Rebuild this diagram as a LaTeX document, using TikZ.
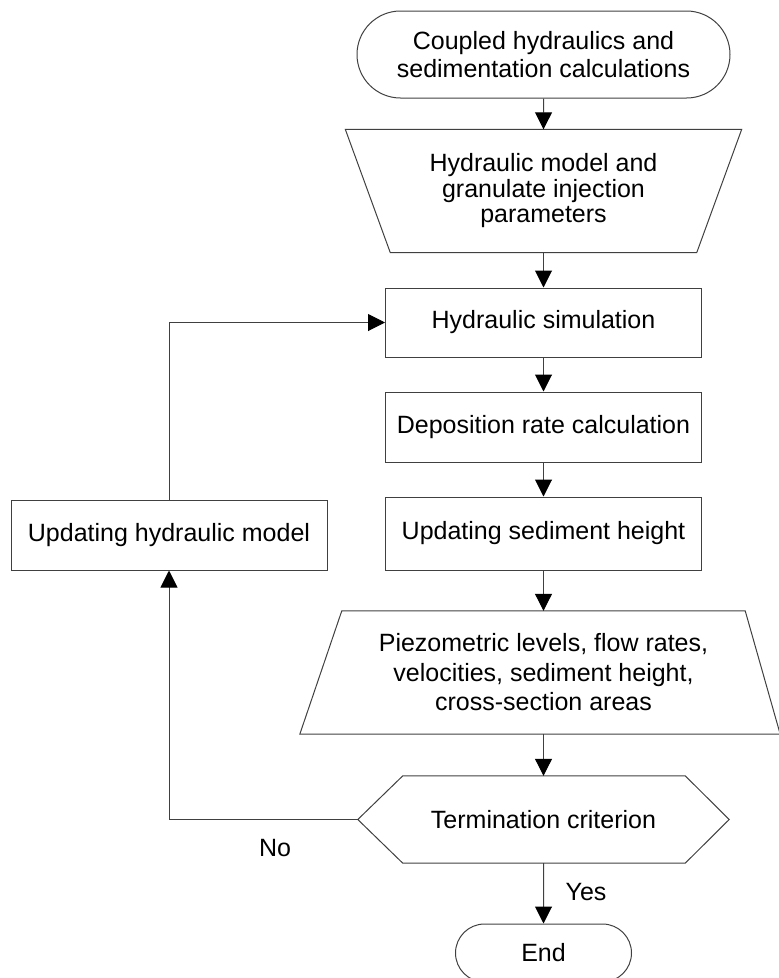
\documentclass[tikz,border=0pt]{standalone}
\usepackage{fontspec}
\setmainfont{Liberation Sans}
\usetikzlibrary{shapes.misc,arrows.meta}

\tikzset{
  outline/.style={draw=black!75, line width=1pt},
  txt/.style={font=\fontsize{25}{28}\selectfont, align=center, inner sep=0pt},
  terminal/.style={txt, outline, rounded rectangle},
  process/.style={txt, outline, rectangle},
  ghost/.style={txt, rectangle},
  flow/.style={draw=black!75, line width=1pt,
    -{Triangle[width=17pt,length=17pt,color=black]}},
}

\begin{document}
\begin{tikzpicture}[x=1pt, y=-1pt]
  \useasboundingbox (0,0) rectangle (779,978);

  % start terminal
  \node[terminal, minimum width=373pt, minimum height=87pt] (start) at (543.5,54.5)
    {Coupled hydraulics and\\sedimentation calculations};

  % input parameters (wide at the top)
  \node[ghost, minimum width=396pt, minimum height=123pt,
        font=\fontsize{25}{25.5}\selectfont] (in1) at (543.5,191)
    {Hydraulic model and\\granulate injection\\parameters};
  \draw[outline] (in1.north west) -- (in1.north east)
    -- ([xshift=-45pt]in1.south east) -- ([xshift=45pt]in1.south west) -- cycle;

  % processing steps
  \node[process, minimum width=316pt, minimum height=69pt] (sim) at (543.5,322.5)
    {Hydraulic simulation};
  \node[process, minimum width=316pt, minimum height=70pt] (dep) at (543.5,427)
    {Deposition rate calculation};
  \node[process, minimum width=316pt, minimum height=73pt] (sed) at (543.5,533.5)
    {Updating sediment height};

  % output quantities (wide at the bottom)
  \node[ghost, minimum width=403pt, minimum height=123pt,
        font=\fontsize{25}{29.5}\selectfont] (in2) at (543.5,672.5)
    {Piezometric levels, flow rates,\\velocities, sediment height,\\cross-section areas};
  \draw[outline] (in2.north west) -- (in2.north east)
    -- ([xshift=35pt]in2.south east) -- ([xshift=-42pt]in2.south west) -- cycle;

  % decision
  \node[ghost, minimum width=371pt, minimum height=87pt] (term) at (543.5,819.5)
    {Termination criterion};
  \draw[outline] (term.west) -- ([xshift=45pt]term.north west)
    -- ([xshift=-44pt]term.north east) -- (term.east)
    -- ([xshift=-44pt]term.south east) -- ([xshift=45pt]term.south west) -- cycle;

  % end terminal
  \node[terminal, minimum width=176pt, minimum height=58pt] (stop) at (543.5,953)
    {End};

  % model update in the loop
  \node[process, minimum width=316pt, minimum height=70pt] (upd) at (169,535)
    {Updating hydraulic model};

  % main flow
  \draw[flow] (start) -- (in1.north);
  \draw[flow] (in1) -- (sim);
  \draw[flow] (sim) -- (dep);
  \draw[flow] (dep) -- (sed);
  \draw[flow] (sed) -- (in2);
  \draw[flow] (in2) -- (term);
  \draw[flow] (term) -- (stop);

  % iteration loop
  \coordinate (corner) at (upd.south |- term.west);
  \draw[flow] (term.west) -- (corner) -- (upd.south);
  \draw[flow] (upd.north) |- (sim.west);

  % branch labels
  \node[txt] (no) at (275,848) {No};
  \node[txt] (yes) at (586,892) {Yes};
\end{tikzpicture}
\end{document}
